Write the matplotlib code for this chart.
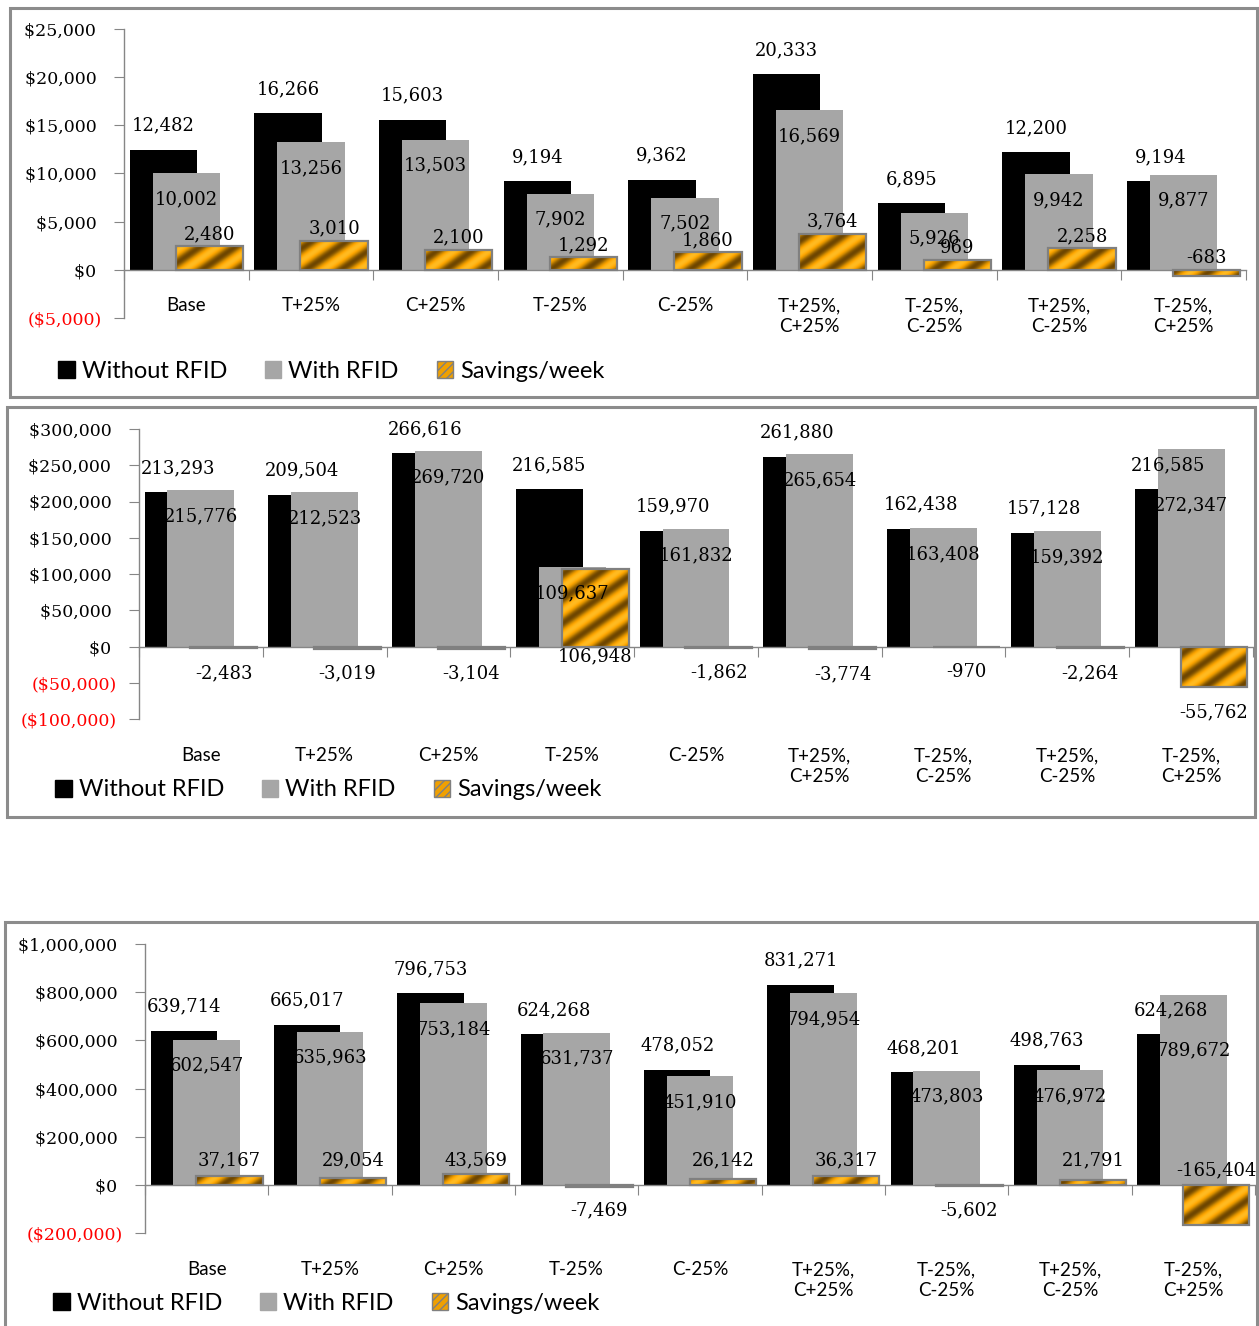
import numpy as np
import matplotlib
matplotlib.use("Agg")
import matplotlib.pyplot as plt
from matplotlib.colors import LinearSegmentedColormap
from matplotlib.patches import Rectangle, Patch

W_PX, H_PX = 1259, 1326

categories = ["Base", "T+25%", "C+25%", "T-25%", "C-25%",
              "T+25%,\nC+25%", "T-25%,\nC-25%", "T+25%,\nC-25%", "T-25%,\nC+25%"]

# panel 1
p1_without = [12482, 16266, 15603, 9194, 9362, 20333, 6895, 12200, 9194]
p1_with = [10002, 13256, 13503, 7902, 7502, 16569, 5926, 9942, 9877]
p1_savings = [2480, 3010, 2100, 1292, 1860, 3764, 969, 2258, -683]

# panel 2
p2_without = [213293, 209504, 266616, 216585, 159970, 261880, 162438, 157128, 216585]
p2_with = [215776, 212523, 269720, 109637, 161832, 265654, 163408, 159392, 272347]
p2_savings = [-2483, -3019, -3104, 106948, -1862, -3774, -970, -2264, -55762]

# panel 3
p3_without = [639714, 665017, 796753, 624268, 478052, 831271, 468201, 498763, 624268]
p3_with = [602547, 635963, 753184, 631737, 451910, 794954, 473803, 476972, 789672]
p3_savings = [37167, 29054, 43569, -7469, 26142, 36317, -5602, 21791, -165404]

series_names = ["Without RFID", "With RFID", "Savings/week"]

NUM_FONT = ["DejaVu Serif"]
TXT_FONT = ["Lato", "DejaVu Sans"]
AXIS_GRAY = "#868686"
BAR_GRAY = "#a6a6a6"
EDGE_GRAY = "#808080"

stripe_cmap = LinearSegmentedColormap.from_list(
    "stripes", [(0, "#6e4600"), (0.45, "#cf8a00"), (0.75, "#ffa600"), (1, "#ffbb22")])


def px_rect(x0, y0, x1, y1):
    return [x0 / W_PX, 1 - y1 / H_PX, (x1 - x0) / W_PX, (y1 - y0) / H_PX]


def money(v):
    if v < 0:
        return f"(${-v:,.0f})"
    return f"${v:,.0f} "


def savings_pos(mode, v):
    if mode == "top":
        return max(v, 0), 12
    if mode == "below":
        return (v, -25) if v < 0 else (0, -10)
    # "zero"
    if v > 0:
        return 0, 24
    if v > -50000:
        return 0, -26
    return 0, 14


panels = [
    dict(rect=(124, 29, 1246, 318), ylim=(-5000, 25000), step=5000,
         data=(p1_without, p1_with, p1_savings), mode="top", cat_off=21,
         legend=(58, 371), box=(10, 8, 1257, 397)),
    dict(rect=(139, 429, 1253, 719), ylim=(-100000, 300000), step=50000,
         data=(p2_without, p2_with, p2_savings), mode="below", cat_off=-28,
         legend=(55, 790), box=(7, 407, 1255, 817)),
    dict(rect=(145, 944, 1255, 1233), ylim=(-200000, 1000000), step=200000,
         data=(p3_without, p3_with, p3_savings), mode="zero", cat_off=-28,
         legend=(53, 1303), box=(5, 922, 1257, 1345)),
]

fig = plt.figure(figsize=(W_PX / 100, H_PX / 100), dpi=100)
n = len(categories)
x = np.arange(n) + 0.5
width = 0.54
shift = 0.185

for p in panels:
    bx0, by0, bx1, by1 = p["box"]
    fig.add_artist(Rectangle((bx0 / W_PX, 1 - by1 / H_PX), (bx1 - bx0) / W_PX, (by1 - by0) / H_PX,
                             transform=fig.transFigure, fill=False, edgecolor="#8c8c8c",
                             linewidth=2.2, zorder=0))

    ax = fig.add_axes(px_rect(*p["rect"]))
    without, with_, savings = p["data"]

    ax.bar(x - shift, without, width, color="black", zorder=2)
    ax.bar(x, with_, width, color=BAR_GRAY, zorder=2.5)
    sav_bars = ax.bar(x + shift, savings, width, color="#f0a000", zorder=3)
    ax.bar(x + shift, savings, width, fill=False, edgecolor=EDGE_GRAY, linewidth=1.6, zorder=3.6)

    # striped texture on the savings bars
    ax_w = int((p["rect"][2] - p["rect"][0]))
    ax_h = int((p["rect"][3] - p["rect"][1]))
    gx, gy = np.meshgrid(np.arange(ax_w), np.arange(ax_h))
    a = np.deg2rad(35)
    s = -gx * np.sin(a) + gy * np.cos(a)
    tex = 0.5 + 0.5 * np.sin(2 * np.pi * s / 20.0)
    for b in sav_bars:
        im = ax.imshow(tex, cmap=stripe_cmap, extent=(0, 1, 0, 1), transform=ax.transAxes,
                       origin="lower", aspect="auto", interpolation="bilinear", zorder=3.3)
        im.set_clip_path(b)

    lo, hi = p["ylim"]
    ax.set_xlim(0, n)
    ax.set_ylim(lo, hi)
    px_per_unit = (p["rect"][3] - p["rect"][1]) / (hi - lo)

    for i in range(n):
        ax.annotate(f"{without[i]:,}", (x[i] - shift, without[i]), xytext=(0, 24),
                    textcoords="offset pixels", ha="center", va="center",
                    fontsize=13, family=NUM_FONT, zorder=5)
        # push the gray label down when it would run into the black one
        gap = (without[i] - with_[i]) * px_per_unit + 24 + 26
        g_off = -26 if gap > 22 else -56
        ax.annotate(f"{with_[i]:,}", (x[i], with_[i]), xytext=(0, g_off),
                    textcoords="offset pixels", ha="center", va="center",
                    fontsize=13, family=NUM_FONT, zorder=5)
        yv, off = savings_pos(p["mode"], savings[i])
        ax.annotate(f"{savings[i]:,}", (x[i] + shift, yv), xytext=(0, off),
                    textcoords="offset pixels", ha="center", va="center",
                    fontsize=13, family=NUM_FONT, zorder=5)
        ax.annotate(categories[i], (x[i], 0), xycoords=("data", "axes fraction"),
                    xytext=(0, p["cat_off"]), textcoords="offset pixels",
                    ha="center", va="top", fontsize=13.5, family=TXT_FONT,
                    linespacing=1.3)

    yt = np.arange(lo, hi + 1, p["step"])
    ax.set_yticks(yt)
    ax.set_yticklabels([money(v) for v in yt], fontsize=12.5, family=NUM_FONT)
    for lab, v in zip(ax.get_yticklabels(), yt):
        lab.set_color("red" if v < 0 else "black")
    ax.tick_params(axis="y", direction="out", length=7, color=AXIS_GRAY, pad=9)

    ax.set_xticks(np.arange(n + 1))
    ax.set_xticklabels([])
    ax.tick_params(axis="x", direction="out", length=7, color=AXIS_GRAY)

    ax.spines["bottom"].set_position(("data", 0))
    for side in ["top", "right"]:
        ax.spines[side].set_visible(False)
    for side in ["bottom", "left"]:
        ax.spines[side].set_color(AXIS_GRAY)
        ax.spines[side].set_linewidth(1)
    ax.patch.set_visible(False)

    handles = [Patch(facecolor="black", edgecolor="black"),
               Patch(facecolor=BAR_GRAY, edgecolor=BAR_GRAY),
               Patch(facecolor="#f0a000", edgecolor=EDGE_GRAY, hatch="////")]
    lx, ly = p["legend"]
    fig.legend(handles, series_names, loc="center left",
               bbox_to_anchor=(lx / W_PX, 1 - ly / H_PX), ncol=3, frameon=False,
               borderpad=0, borderaxespad=0, handlelength=0.7, handleheight=0.7,
               handletextpad=0.3, columnspacing=1.6,
               prop={"family": TXT_FONT, "size": 17})

fig.savefig("out.png", dpi=100)
